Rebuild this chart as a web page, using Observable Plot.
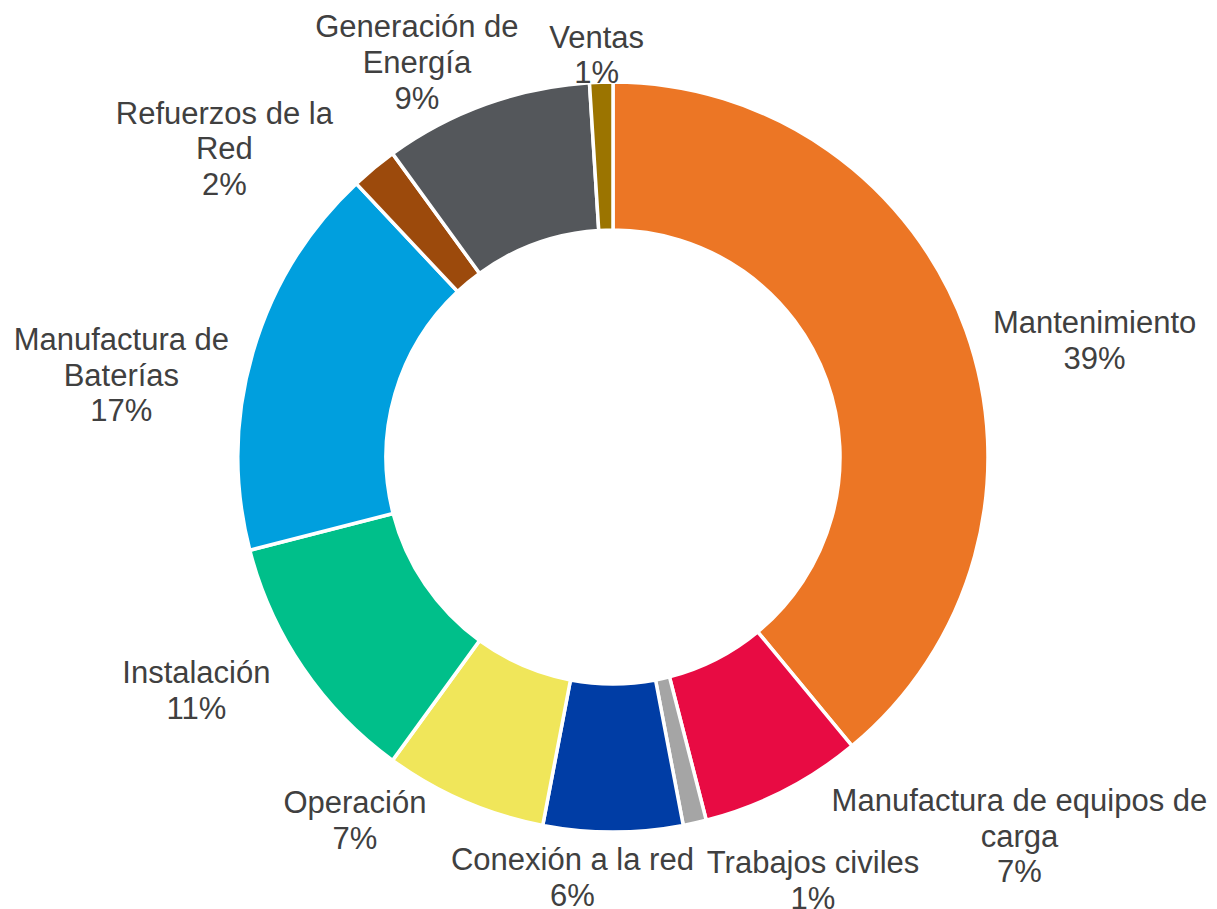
<!DOCTYPE html>
<html>
<head>
<meta charset="utf-8">
<script src="https://cdn.jsdelivr.net/npm/d3@7"></script>
<script src="https://cdn.jsdelivr.net/npm/@observablehq/plot@0.6"></script>
<style>
  html, body { margin: 0; padding: 0; background: #ffffff; }
  #chart { width: 1217px; height: 909px; }
</style>
</head>
<body>
<div id="chart"></div>
<script>
// ---- data ----
const categories = [
  "Mantenimiento",
  "Manufactura de equipos de carga",
  "Trabajos civiles",
  "Conexión a la red",
  "Operación",
  "Instalación",
  "Manufactura de Baterías",
  "Refuerzos de la Red",
  "Generación de Energía",
  "Ventas"
];
const shares = [39, 7, 1, 6, 7, 11, 17, 2, 9, 1];
const colors = ["#EC7625", "#E80B43", "#A5A5A5", "#003DA5", "#F0E65A",
                "#00BF8A", "#009FDE", "#9C4A0C", "#54575B", "#9B7400"];
// label text as printed in the chart (with its line breaks)
const labelNames = [
  "Mantenimiento",
  "Manufactura de equipos de\ncarga",
  "Trabajos civiles",
  "Conexión a la red",
  "Operación",
  "Instalación",
  "Manufactura de\nBaterías",
  "Refuerzos de la\nRed",
  "Generación de\nEnergía",
  "Ventas"
];

// ---- layout (label placement: angle clockwise from 12 o'clock, distance in outer radii) ----
const labelAngle = [76.2, 132.95, 154.7, 185.6, 215.55, 240.9, 279.6, 308.5, 333.6, 357.6];
const labelDist  = [1.321, 1.479, 1.245, 1.123, 1.186, 1.273, 1.331, 1.326, 1.179, 1.077];

const W = 1217, H = 909;
const CX = 613, CY = 457, R_OUT = 375, R_IN = 227;

const rows = categories.map((c, i) => ({
  name: c, value: shares[i], color: colors[i],
  label: labelNames[i] + "\n" + shares[i] + "%",
  la: labelAngle[i] * Math.PI / 180, ld: labelDist[i]
}));
const pieGen = d3.pie().value(d => d.value).sort(null);
const arcsData = pieGen(rows);

// scales in units of outer radius, centred on the donut (y up)
const xDomain = [-CX / R_OUT, (W - CX) / R_OUT];
const yDomain = [-(H - CY) / R_OUT, CY / R_OUT];

function donutMark(index, scales, values, dimensions) {
  const sx = scales.x, sy = scales.y;
  const cx = sx(0), cy = sy(0);
  const rOuter = sx(1) - sx(0);
  const rInner = rOuter * (R_IN / R_OUT);
  const arc = d3.arc().innerRadius(rInner).outerRadius(rOuter);
  const g = d3.create("svg:g").attr("transform", `translate(${cx},${cy})`);
  g.selectAll("path")
    .data(arcsData)
    .join("path")
    .attr("d", arc)
    .attr("fill", d => d.data.color)
    .attr("stroke", "#ffffff")
    .attr("stroke-width", 3.5)
    .attr("stroke-linejoin", "miter");
  return g.node();
}

const plot = Plot.plot({
  width: W,
  height: H,
  margin: 0,
  x: { domain: xDomain, axis: null },
  y: { domain: yDomain, axis: null },
  style: { background: "#ffffff", fontFamily: "'Liberation Sans', Arial, sans-serif" },
  marks: [
    donutMark,
    Plot.text(rows, {
      x: d => d.ld * Math.sin(d.la),
      y: d => d.ld * Math.cos(d.la),
      text: "label",
      fontSize: 31,
      lineHeight: 1.15,
      fill: "#404040",
      textAnchor: "middle",
      lineAnchor: "middle"
    })
  ]
});
document.getElementById("chart").appendChild(plot);
</script>
</body>
</html>
